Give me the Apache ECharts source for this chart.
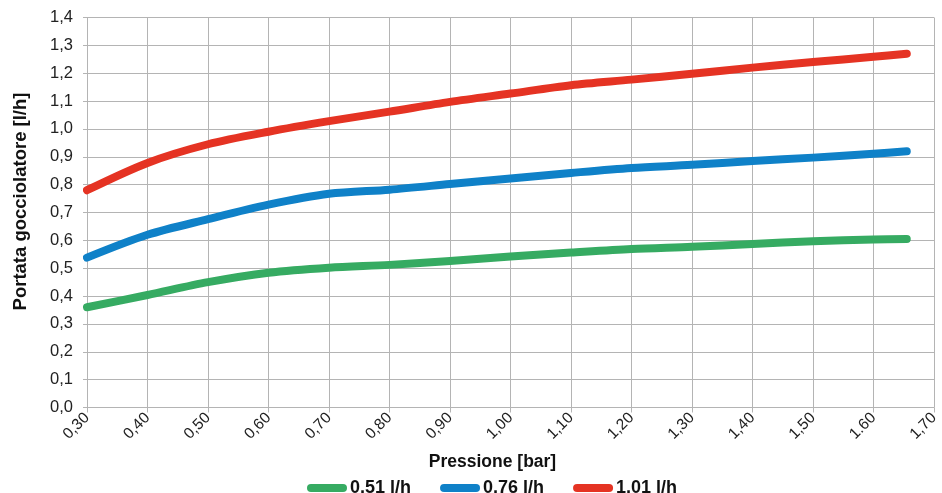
<!DOCTYPE html>
<html>
<head>
<meta charset="utf-8">
<script src="https://cdn.jsdelivr.net/npm/echarts@6/dist/echarts.min.js"></script>
<style>
html,body{margin:0;padding:0;background:#fff;}
#chart{width:942px;height:493px;}
</style>
</head>
<body>
<div id="chart"></div>
<script>
var pressure = [0.30, 0.40, 0.50, 0.60, 0.70, 0.80, 0.90, 1.00, 1.10, 1.20, 1.30, 1.40, 1.50, 1.60, 1.655];
var flow051 = [0.360, 0.404, 0.450, 0.484, 0.502, 0.512, 0.526, 0.542, 0.556, 0.569, 0.577, 0.587, 0.597, 0.603, 0.605];
var flow076 = [0.538, 0.620, 0.676, 0.728, 0.767, 0.782, 0.802, 0.822, 0.842, 0.860, 0.871, 0.885, 0.897, 0.911, 0.920];
var flow101 = [0.780, 0.878, 0.945, 0.990, 1.028, 1.062, 1.097, 1.127, 1.157, 1.177, 1.198, 1.220, 1.240, 1.259, 1.270];
var seriesNames = ['0,51 l/h', '0,76 l/h', '1,01 l/h'];
var xTickLabels = ['0,30','0,40','0,50','0,60','0,70','0,80','0,90','1,00','1,10','1,20','1,30','1,40','1,50','1.60','1,70'];
var yTickLabels = ['0,0','0,1','0,2','0,3','0,4','0,5','0,6','0,7','0,8','0,9','1,0','1,1','1,2','1,3','1,4'];
var colors = ['#36AB62', '#0F81C8', '#E53323'];

function pairs(ys){ return pressure.map(function(x,i){ return [x, ys[i]]; }); }
var allSeries = [flow051, flow076, flow101];
var FONT = '"Liberation Sans", Arial, sans-serif';
var legendIcon = 'path://M4,0 H36 A4,4 0 0 1 36,8 H4 A4,4 0 0 1 4,0 Z';

var chart = echarts.init(document.getElementById('chart'), null, {renderer:'canvas'});
chart.setOption({
  animation: false,
  backgroundColor: '#fff',
  color: colors,
  grid: {left: 87, right: 8, top: 17.5, bottom: 85.5, containLabel: false},
  legend: {
    left: 302, top: 474,
    itemWidth: 40, itemHeight: 8, itemGap: 29,
    icon: legendIcon,
    textStyle: {fontFamily: FONT, fontWeight: 'bold', fontSize: 18, color: '#111', padding:[0,0,0,-2]},
    data: seriesNames
  },
  xAxis: {
    type: 'value', min: 0.3, max: 1.7, interval: 0.1,
    name: 'Pressione [bar]', nameLocation: 'middle', nameGap: 46,
    nameTextStyle: {fontFamily: FONT, fontWeight: 'bold', fontSize: 17.5, color: '#111', padding: [0, 36, 0, 0]},
    axisLine: {show: true, lineStyle: {color: '#b4b4b4', width: 1}},
    axisTick: {show: true, length: 5, lineStyle: {color: '#b4b4b4'}},
    axisLabel: {
      rotate: 45, margin: 8, fontFamily: FONT, fontSize: 15.5, color: '#222',
      formatter: function(v){ return xTickLabels[Math.round((v - 0.3) / 0.1)]; }
    },
    splitLine: {show: true, lineStyle: {color: '#b4b4b4', width: 1}}
  },
  yAxis: {
    type: 'value', min: 0, max: 1.4, interval: 0.1,
    name: 'Portata gocciolatore [l/h]', nameLocation: 'middle', nameGap: 57, nameRotate: 90,
    nameTextStyle: {fontFamily: FONT, fontWeight: 'bold', fontSize: 18.5, color: '#111', padding: [0, 0, 0, 22]},
    axisLine: {show: true, lineStyle: {color: '#b4b4b4', width: 1}},
    axisTick: {show: true, length: 4, lineStyle: {color: '#b4b4b4'}},
    axisLabel: {
      margin: 14, fontFamily: FONT, fontSize: 16.5, color: '#222',
      formatter: function(v){ return yTickLabels[Math.round(v / 0.1)]; }
    },
    splitLine: {show: true, lineStyle: {color: '#b4b4b4', width: 1}}
  },
  series: allSeries.map(function(ys, i){
    return {
      name: seriesNames[i], type: 'line', smooth: 0.3,
      showSymbol: false, symbol: 'none',
      lineStyle: {width: 8, cap: 'round', join: 'round', color: colors[i]},
      itemStyle: {color: colors[i]},
      data: pairs(ys)
    };
  })
});
</script>
</body>
</html>
